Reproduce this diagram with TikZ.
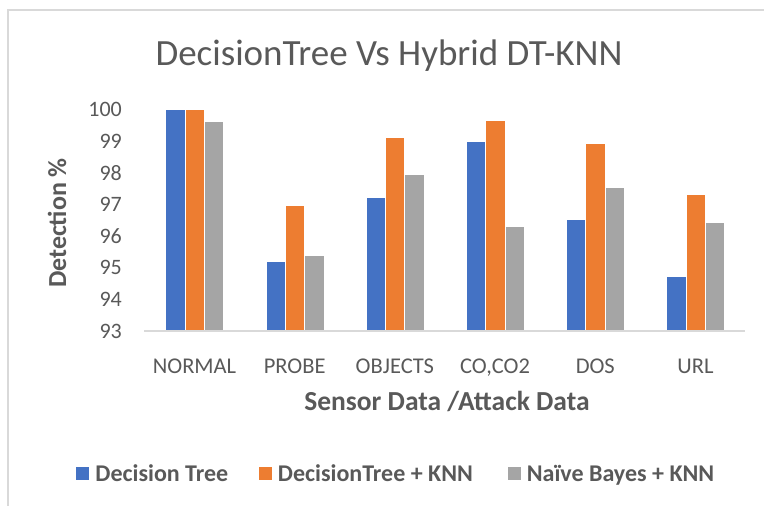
\documentclass[tikz,border=0pt]{standalone}
\usepackage{fontspec}
\setmainfont{Carlito}
\usepackage{xcolor}
\usetikzlibrary{positioning}
\definecolor{dtblue}{HTML}{4472C4}
\definecolor{knnorange}{HTML}{ED7D31}
\definecolor{nbgray}{HTML}{A5A5A5}
\definecolor{txtgray}{HTML}{595959}
\definecolor{linegray}{HTML}{D9D9D9}

\begin{document}
\begin{tikzpicture}[x=1pt,y=-1pt,
    bar/.style={draw=white,line width=0.4pt},
    ticklbl/.style={anchor=east,inner sep=0pt,font=\fontsize{22}{24}\selectfont,text=txtgray},
    catlbl/.style={anchor=base,inner sep=0pt,font=\fontsize{22.5}{24}\selectfont,text=txtgray},
    axtitle/.style={inner sep=0pt,font=\fontsize{27.5}{30}\selectfont\bfseries,text=txtgray},
    key/.style={minimum size=13pt,inner sep=0pt},
    keylbl/.style={inner sep=0pt,text height=15pt,text depth=0pt,font=\fontsize{24}{26}\selectfont\bfseries,text=txtgray}]
  \useasboundingbox (0,0) rectangle (764,506);
  \draw[linegray,line width=1.5pt] (8,506) -- (8,10) -- (764,10);
  \node[anchor=base,inner sep=0pt,font=\fontsize{37}{40}\selectfont,text=txtgray] (title) at (389,65) {DecisionTree Vs Hybrid DT-KNN};
  % y axis
  \foreach \v in {93,...,100}
    \node[ticklbl] (tick\v) at (122,{331-(\v-93)*31.67}) {\v};
  \node[axtitle,rotate=90,font=\fontsize{26}{28}\selectfont\bfseries] (ytitle) at (57,223) {Detection \%};
  % bars
  \foreach \cat/\a/\b/\c [count=\i from 0] in {NORMAL/100/100/99.62,PROBE/95.2/96.98/95.38,OBJECTS/97.21/99.11/97.96,{CO,CO2}/98.99/99.67/96.31,DOS/96.54/98.93/97.53,URL/94.74/97.31/96.42}{
    \pgfmathsetmacro{\xc}{194.5+100.2*\i}
    \draw[bar,fill=dtblue] ({\xc-29},331) rectangle ({\xc-9.67},{331-(\a-93)*31.67});
    \draw[bar,fill=knnorange] ({\xc-9.67},331) rectangle ({\xc+9.67},{331-(\b-93)*31.67});
    \draw[bar,fill=nbgray] ({\xc+9.67},331) rectangle ({\xc+29},{331-(\c-93)*31.67});
    \node[catlbl] (cat\i) at (\xc,373) {\cat};
  }
  \draw[linegray,line width=1.5pt] (144,331) -- (745,331);
  \node[axtitle,anchor=base] (xtitle) at (447,410) {Sensor Data /Attack Data};
  % legend
  \node[key,fill=dtblue] (dtkey) at (82.5,473.5) {};
  \node[keylbl,right=6pt of dtkey] (dtlbl) {Decision Tree};
  \node[key,fill=knnorange] (knnkey) at (265,473.5) {};
  \node[keylbl,right=6pt of knnkey] (knnlbl) {DecisionTree + KNN};
  \node[key,fill=nbgray] (nbkey) at (514,473.5) {};
  \node[keylbl,right=6pt of nbkey] (nblbl) {Naïve Bayes + KNN};
\end{tikzpicture}
\end{document}
